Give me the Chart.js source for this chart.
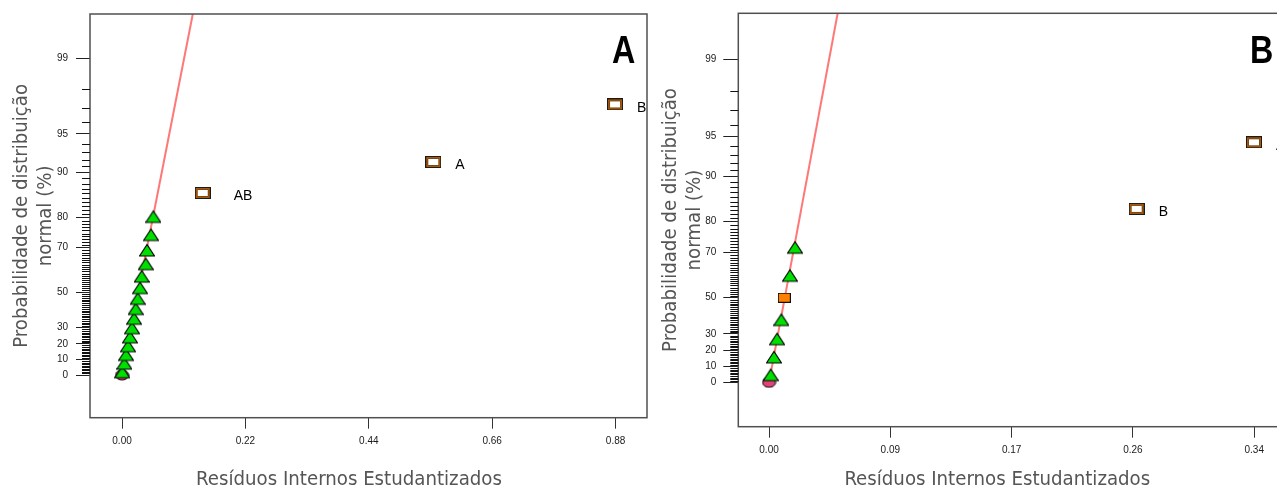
<!DOCTYPE html>
<html><head><meta charset="utf-8">
<script src="https://cdn.jsdelivr.net/npm/chart.js@4.4.0/dist/chart.umd.min.js"></script>
<style>
html,body{margin:0;padding:0;background:#fff;overflow:hidden;width:1277px;height:488px;position:relative}
#wa{position:absolute;left:0;top:0;width:650px;height:488px}
#wb{position:absolute;left:650px;top:0;width:640px;height:488px}
canvas{display:block}
</style></head><body>
<div id="wa"><canvas id="ca" width="650" height="488"></canvas></div>
<div id="wb"><canvas id="cb" width="640" height="488"></canvas></div>
<script>
// ---------- data (half-normal % probability vs. studentized residual) ----------
const MAJOR_PCT = [0, 10, 20, 30, 50, 70, 80, 90, 95, 99];

// Panel A
const aTriPct = [2.78, 8.33, 13.89, 19.44, 25.00, 30.56, 36.11, 41.67, 47.22, 52.78, 58.33, 63.89, 69.44, 75.00, 80.56];
const aTriRes = [0.0005, 0.0041, 0.0071, 0.0107, 0.0143, 0.0178, 0.0214, 0.0244, 0.0280, 0.0321, 0.0351, 0.0423, 0.0446, 0.0517, 0.0558];
const aSqLabels = ['AB', 'A', 'B'];
const aSqPct = [86.11, 91.67, 97.22];
const aSqRes = [0.1439, 0.5550, 0.8790];
const aZeroPct = [0];
const aZeroRes = [0];
const aLinePct = [0, 99.667];
const aLineRes = [0, 0.1262];
const aXTicks = [0, 0.22, 0.44, 0.66, 0.88];

// Panel B
const bTriPct = [5.56, 16.67, 27.78, 38.89, 61.11, 72.22];
const bTriRes = [0.0012, 0.0035, 0.0057, 0.0087, 0.0148, 0.0184];
const bMidPct = [50];
const bMidRes = [0.0108];
const bSqLabels = ['B', 'A'];
const bSqPct = [83.33, 94.44];
const bSqRes = [0.2597, 0.3426];
const bZeroPct = [0];
const bZeroRes = [0];
const bLinePct = [0, 99.675];
const bLineRes = [0, 0.0485];
const bXTicks = [0, 0.0857, 0.1714, 0.2571, 0.3428];

const X_TITLE = 'Resíduos Internos Estudantizados';
const Y_TITLE = ['Probabilidade de distribuição', 'normal (%)'];

// ---------- half-normal probability transform ----------
function qnorm(p){
  const a=[-3.969683028665376e+01,2.209460984245205e+02,-2.759285104469687e+02,1.383577518672690e+02,-3.066479806614716e+01,2.506628277459239e+00];
  const b=[-5.447609879822406e+01,1.615858368580409e+02,-1.556989798598866e+02,6.680131188771972e+01,-1.328068155288572e+01];
  const c=[-7.784894002430293e-03,-3.223964580411365e-01,-2.400758277161838e+00,-2.549732539343734e+00,4.374664141464968e+00,2.938163982698783e+00];
  const d=[7.784695709041462e-03,3.224671290700398e-01,2.445134137142996e+00,3.754408661907416e+00];
  const pl=0.02425, ph=1-pl; let q,r;
  if(p<pl){q=Math.sqrt(-2*Math.log(p));return (((((c[0]*q+c[1])*q+c[2])*q+c[3])*q+c[4])*q+c[5])/((((d[0]*q+d[1])*q+d[2])*q+d[3])*q+1);}
  if(p<=ph){q=p-0.5;r=q*q;return (((((a[0]*r+a[1])*r+a[2])*r+a[3])*r+a[4])*r+a[5])*q/(((((b[0]*r+b[1])*r+b[2])*r+b[3])*r+b[4])*r+1);}
  q=Math.sqrt(-2*Math.log(1-p));return -(((((c[0]*q+c[1])*q+c[2])*q+c[3])*q+c[4])*q+c[5])/((((d[0]*q+d[1])*q+d[2])*q+d[3])*q+1);
}
const zOf = P => qnorm(0.5 + P / 200);
const MINOR_PCT = [];
for (let p = 1; p < 99; p++) if (!MAJOR_PCT.includes(p)) MINOR_PCT.push(p);

const pts = (xs, ps) => xs.map((x, i) => ({x: x, y: zOf(ps[i])}));

// ---------- marker images ----------
function mk(w, h, fn){ const c = document.createElement('canvas'); c.width = w; c.height = h; fn(c.getContext('2d')); return c; }
const TRI = mk(16, 18, g => {
  g.beginPath(); g.moveTo(8, 4.5); g.lineTo(15.5, 16); g.lineTo(0.5, 16); g.closePath();
  g.fillStyle = '#00e000'; g.fill(); g.strokeStyle = '#000'; g.lineWidth = 1.2; g.stroke();
});
const HSQ = mk(16, 12, g => {
  g.fillStyle = '#1a1a1a'; g.fillRect(0, 0, 16, 12);
  g.fillStyle = '#b05800'; g.fillRect(1, 1, 14, 10);
  g.fillStyle = '#3a3a3a'; g.fillRect(2.5, 2.5, 11, 7);
  g.fillStyle = '#fff'; g.fillRect(3, 3, 10, 6);
});
const FSQ = mk(13, 10, g => {
  g.fillStyle = '#111'; g.fillRect(0, 0, 13, 10);
  g.fillStyle = '#ff8000'; g.fillRect(1, 1, 11, 8);
});
const CIRC = mk(15, 12, g => {
  g.beginPath(); g.ellipse(7.5, 6, 6.5, 5, 0, 0, Math.PI * 2);
  g.fillStyle = '#e0447a'; g.fill(); g.strokeStyle = '#000'; g.lineWidth = 1; g.stroke();
});

const TITLE_FONT = '"DejaVu Sans Condensed", "DejaVu Sans", sans-serif';
function fitSize(ctx, text, fam, target){ ctx.font = '100px ' + fam; return 100 * target / ctx.measureText(text).width; }

// ---------- decoration plugin ----------
const deco = {
  id: 'deco',
  afterDatasetsDraw(chart, args, o){
    const {ctx, chartArea: a} = chart;
    ctx.save();
    ctx.beginPath(); ctx.rect(a.left, a.top, a.right - a.left, a.bottom - a.top); ctx.clip();
    ctx.fillStyle = '#000';
    ctx.font = '14px "Liberation Sans", Arial, sans-serif';
    ctx.textAlign = 'left'; ctx.textBaseline = 'middle';
    chart.data.datasets.forEach((ds, i) => {
      if (!ds.pointLabels) return;
      chart.getDatasetMeta(i).data.forEach((pt, j) => {
        const t = ds.pointLabels[j];
        ctx.fillText(t, pt.x + (t.length > 1 ? 31 : 22), pt.y + 3.5);
      });
    });
    ctx.restore();
  },
  afterDraw(chart, args, o){
    const {ctx, chartArea: a, scales} = chart;
    ctx.save();
    // frame
    ctx.strokeStyle = '#505050'; ctx.lineWidth = 1.5;
    ctx.strokeRect(a.left, a.top, a.right - a.left, a.bottom - a.top);
    // minor y ticks
    ctx.strokeStyle = '#111'; ctx.lineWidth = 1; ctx.beginPath();
    MINOR_PCT.forEach(p => {
      const py = Math.round(scales.y.getPixelForValue(zOf(p))) + 0.5;
      ctx.moveTo(a.left - o.minorLen, py); ctx.lineTo(a.left, py);
    });
    ctx.stroke();
    // titles
    const fs = fitSize(ctx, X_TITLE, TITLE_FONT, 306);
    ctx.font = fs.toFixed(2) + 'px ' + TITLE_FONT;
    ctx.fillStyle = '#555';
    ctx.textAlign = 'center'; ctx.textBaseline = 'alphabetic';
    ctx.fillText(X_TITLE, a.left + 259, 484.5);
    const cy = (a.top + a.bottom) / 2;
    ctx.textBaseline = 'middle';
    [[Y_TITLE[0], a.left - 68], [Y_TITLE[1], a.left - 44]].forEach(([t, x]) => {
      ctx.save(); ctx.translate(x, cy); ctx.rotate(-Math.PI / 2); ctx.fillText(t, 0, 0); ctx.restore();
    });
    // panel letter (slightly condensed bold)
    ctx.fillStyle = '#000';
    ctx.font = 'bold 38px "Liberation Sans", Arial, sans-serif';
    ctx.textAlign = 'left'; ctx.textBaseline = 'alphabetic';
    ctx.translate(o.letterX, 63); ctx.scale(0.85, 1);
    ctx.fillText(o.letter, 0, 0);
    ctx.restore();
  }
};

function makeChart(el, cfg){
  const TF = {family: '"Liberation Sans", Arial, sans-serif', size: 10};
  return new Chart(el, {
    type: 'scatter',
    data: {datasets: cfg.datasets},
    options: {
      responsive: false, animation: false, devicePixelRatio: 1, events: [],
      layout: {padding: cfg.padding, autoPadding: false},
      plugins: {legend: {display: false}, tooltip: {enabled: false},
        deco: {letter: cfg.letter, letterX: cfg.letterX, minorLen: 8}},
      scales: {
        x: {type: 'linear', min: cfg.xMin, max: cfg.xMax,
          afterBuildTicks: s => { s.ticks = cfg.xTicks.map(v => ({value: v})); },
          ticks: {callback: v => Number(v).toFixed(2), font: TF, color: '#1a1a1a', padding: 7, autoSkip: false, maxRotation: 0},
          grid: {drawOnChartArea: false, tickLength: 11, tickColor: '#333', tickWidth: 1},
          border: {display: false},
          afterFit: s => { s.height = 40; }},
        y: {type: 'linear', min: cfg.yMin, max: cfg.yMax,
          afterBuildTicks: s => { s.ticks = MAJOR_PCT.map(p => ({value: zOf(p)})); },
          ticks: {callback: (v, i) => String(MAJOR_PCT[i]), font: TF, color: '#1a1a1a', padding: cfg.yPad, autoSkip: false},
          grid: {drawOnChartArea: false, tickLength: cfg.yTick, tickColor: '#222', tickWidth: 1},
          border: {display: false},
          afterFit: s => { s.width = cfg.yWidth; }}
      }
    },
    plugins: [deco]
  });
}

const lineDs = (xs, ps) => ({data: pts(xs, ps), showLine: true, borderColor: '#ff7878', borderWidth: 2, pointRadius: 0, order: 4});

makeChart(document.getElementById('ca'), {
  letter: 'A', letterX: 612,
  padding: {left: 0, top: 14, right: 3, bottom: 30.3},
  xMin: -0.0571, xMax: 0.936, xTicks: aXTicks,
  yMin: -0.347, yMax: 2.935, yWidth: 90, yTick: 14, yPad: 8,
  datasets: [
    {data: pts(aTriRes, aTriPct), pointStyle: TRI, pointRadius: 6, order: 1},
    {data: pts(aSqRes, aSqPct), pointStyle: HSQ, pointRadius: 6, pointLabels: aSqLabels, order: 2},
    {data: pts(aZeroRes, aZeroPct), pointStyle: CIRC, pointRadius: 6, order: 3},
    lineDs(aLineRes, aLinePct)
  ]
});

makeChart(document.getElementById('cb'), {
  letter: 'B', letterX: 600,
  padding: {left: 0, top: 13.3, right: 8, bottom: 21.3},
  xMin: -0.0217, xMax: 0.3624, xTicks: bXTicks,
  yMin: -0.354, yMax: 2.943, yWidth: 88.3, yTick: 15, yPad: 7,
  datasets: [
    {data: pts(bTriRes, bTriPct), pointStyle: TRI, pointRadius: 6, order: 1},
    {data: pts(bMidRes, bMidPct), pointStyle: FSQ, pointRadius: 6, order: 1},
    {data: pts(bSqRes, bSqPct), pointStyle: HSQ, pointRadius: 6, pointLabels: bSqLabels, order: 2},
    {data: pts(bZeroRes, bZeroPct), pointStyle: CIRC, pointRadius: 6, order: 3},
    lineDs(bLineRes, bLinePct)
  ]
});
</script>
</body></html>
